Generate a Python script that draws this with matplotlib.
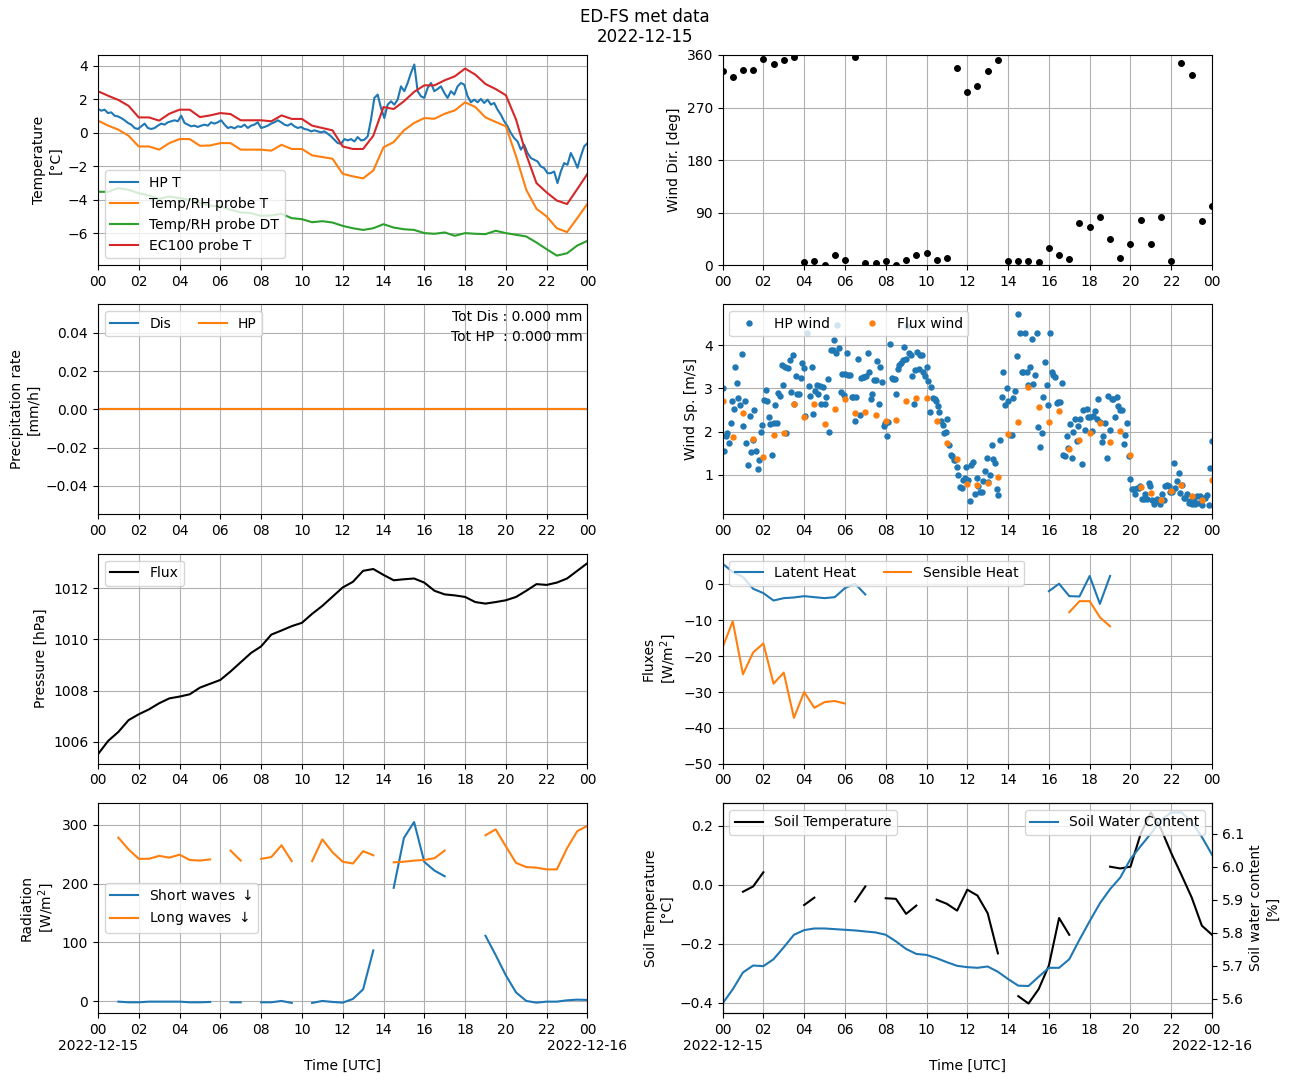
import numpy as np
import matplotlib
matplotlib.use("Agg")
import matplotlib.pyplot as plt

nan = np.nan

# ---------------- data ----------------
hours_tick = list(range(0, 25, 2))
tick_labels = ['00', '02', '04', '06', '08', '10', '12', '14', '16', '18', '20', '22', '00']
date_start = '2022-12-15'
date_end = '2022-12-16'

# half-hourly time axis (hours)
t30 = np.arange(49) * 0.5

# Temperature panel
hp_t = [1.41, 1.31, 1.37, 1.17, 1.21, 1.01, 0.97, 0.87, 0.74, 0.58, 0.48, 0.28, 0.22, 0.38, 0.54, 0.28,
        0.22, 0.28, 0.42, 0.54, 0.48, 0.62, 0.68, 0.74, 0.68, 1.01, 0.58, 0.48, 0.38, 0.42, 0.34, 0.42,
        0.48, 0.42, 0.62, 0.54, 0.62, 0.74, 0.48, 0.28, 0.34, 0.26, 0.38, 0.34, 0.48, 0.28, 0.42, 0.48,
        0.62, 0.28, 0.34, 0.42, 0.54, 0.62, 0.74, 0.62, 0.48, 0.42, 0.54, 0.38, 0.28, 0.34, 0.22, 0.18,
        0.08, 0.14, 0.08, 0.02, 0.08, -0.06, -0.22, -0.42, -0.62, -0.66, -0.38, -0.46, -0.38, -0.52,
        -0.26, -0.46, -0.42, -0.22, 0.78, 2.07, 2.27, 1.47, 0.87, 1.67, 1.87, 1.67, 1.97, 2.76, 2.47,
        2.96, 3.56, 4.06, 2.47, 2.17, 2.07, 2.66, 2.96, 2.47, 2.6, 2.76, 2.37, 2.07, 2.47, 2.27, 2.76,
        2.96, 2.86, 2.17, 1.81, 1.97, 1.81, 2.01, 1.77, 1.97, 1.67, 1.77, 1.37, 1.07, 0.68, 0.38, -0.02,
        -0.32, -0.52, -1.01, -0.72, -1.21, -1.51, -1.61, -1.71, -2.01, -2.11, -2.41, -2.41, -2.31, -3.0,
        -2.31, -1.81, -1.91, -1.21, -1.61, -2.09, -1.41, -0.82, -0.62]
rh_t = [0.72, 0.42, 0.18, -0.18, -0.82, -0.82, -1.01, -0.62, -0.38, -0.38, -0.78, -0.76, -0.62, -0.62,
        -1.01, -1.01, -1.01, -1.07, -0.72, -0.97, -0.97, -1.35, -1.45, -1.55, -2.45, -2.6, -2.72, -2.25,
        -0.87, -0.56, 0.14, 0.58, 0.87, 0.83, 1.13, 1.33, 1.81, 1.53, 0.91, 0.64, 0.38, -1.41, -3.4,
        -4.53, -4.99, -5.69, -5.92, -5.09, -4.23]
rh_dt = [-3.52, -3.52, -3.3, -3.4, -3.6, -3.74, -3.94, -3.8, -3.9, -4.0, -4.19, -4.35, -4.39, -4.59,
         -4.75, -4.79, -4.95, -4.93, -4.83, -5.09, -5.15, -5.33, -5.27, -5.35, -5.55, -5.69, -5.79,
         -5.69, -5.45, -5.65, -5.75, -5.79, -5.98, -6.02, -5.94, -6.14, -5.98, -6.02, -6.04, -5.84,
         -5.98, -6.08, -6.18, -6.54, -6.94, -7.32, -7.18, -6.72, -6.44]
ec100_t = [2.47, 2.2, 1.95, 1.6, 0.91, 0.91, 0.72, 1.13, 1.37, 1.37, 0.93, 1.03, 1.17, 1.11, 0.74,
           0.74, 0.74, 0.68, 1.03, 0.82, 0.82, 0.42, 0.28, 0.14, -0.82, -0.97, -0.97, -0.18, 1.53,
           1.41, 1.87, 2.43, 2.82, 2.82, 3.12, 3.36, 3.82, 3.46, 2.9, 2.6, 2.23, 0.78, -1.31, -3.0,
           -3.56, -4.04, -4.25, -3.36, -2.45]

# Wind direction (half-hourly)
wind_dir = [333, 322, 334, 334, 353, 344, 351, 357, 4.6, 6.3, 0, 16.6, 8, 357, 3.4, 3.4, 6.3, 0, 8,
            16.6, 20, 8, 13, 337, 296, 306, 332, 351, 6.3, 6.3, 6.3, 4.6, 28.6, 16.6, 11.4, 73, 64.6,
            83, 44, 13, 35.4, 76.6, 35.4, 83, 6.3, 347, 325, 75, 102]

# Wind speed: HP wind (dense) in two read segments, flux wind half-hourly
hp_wind_a = [3.0, 1.55, 1.9, 1.97, 1.73, 2.2, 2.7, 2.52, 3.5, 3.13, 2.78, 2.62, 3.8, 2.13, 2.7, 1.73,
             1.22, 2.35, 1.53, 1.81, 2.5, 1.56, 1.13, 1.35, 1.99, 2.16, 2.73, 2.96, 2.7, 2.34, 2.18,
             1.46, 2.2, 2.62, 2.2, 2.9, 2.82, 3.55, 3.09, 3.5, 1.97, 3.47, 3.67, 2.92, 3.78, 2.64, 3.28,
             2.86, 2.87, 3.24, 3.59, 3.47, 2.35, 4.29, 3.05, 2.82, 3.5, 2.41, 2.95, 3.09, 2.86, 3.05,
             2.64, 3.03, 2.64, 2.8, 3.23, 2.0, 3.88, 3.88, 4.13, 3.82, 4.48, 3.94, 2.92, 3.34, 2.84,
             3.34, 3.82, 3.32, 3.32, 2.8, 2.8, 2.25, 2.8, 3.69, 2.39, 3.24, 3.26, 3.26, 3.3, 3.82, 3.38,
             2.76, 2.87, 3.2, 3.2, 3.63, 2.64, 3.5, 3.15, 2.14, 2.19, 1.9, 2.22, 4.03, 3.24, 3.22, 3.23,
             2.87, 3.44, 3.54, 3.59, 3.67, 3.96, 3.69, 4.44, 3.82, 3.77, 3.3, 2.64, 3.43, 3.84, 3.44,
             3.78, 3.78, 3.38, 3.28, 3.49, 3.17, 2.45, 3.03, 2.78, 2.76, 2.7, 2.59, 2.45, 2.24, 2.16,
             1.97, 2.0, 2.3, 1.7, 1.46, 1.43, 1.35, 1.33, 1.19, 1.0, 0.71, 0.69, 0.88, 0.92]
hp_wind_b = [1.19, 0.87, 0.4, 1.22, 1.3, 0.55, 0.92, 0.73, 0.61, 0.61, 0.85, 1.09, 1.39, 0.83, 1.0,
             1.69, 1.37, 1.27, 0.68, 0.53, 1.81, 2.8, 3.38, 2.62, 3.0, 2.7, 1.91, 1.93, 2.78, 2.95,
             3.76, 4.73, 4.29, 3.38, 3.38, 4.29, 3.38, 3.07, 3.5, 4.15, 3.11, 3.32, 4.29, 2.1, 1.64,
             1.97, 2.8, 3.61, 3.09, 2.62, 4.29, 3.38, 3.32, 3.26, 2.66, 2.68, 2.69, 3.13, 1.46, 1.43,
             1.9, 1.62, 2.18, 1.39, 2.0, 2.29, 1.79, 2.14, 2.29, 1.25, 2.5, 2.04, 2.53, 2.34, 2.34,
             2.02, 2.37, 2.47, 2.3, 2.76, 2.22, 1.76, 1.89, 2.2, 1.39, 2.83, 2.04, 2.76, 2.76, 2.34,
             2.8, 2.6, 2.51, 2.51, 1.71, 1.93, 2.2, 1.44, 0.91, 0.67, 0.68, 0.55, 0.7, 0.7, 0.73, 0.44,
             0.44, 0.56, 0.44, 0.81, 0.73, 0.42, 0.33, 0.4, 0.44, 0.42, 0.33, 0.55, 0.42, 0.73, 0.77,
             0.73, 0.59, 0.59, 1.27, 0.7, 0.86, 1.04, 0.57, 0.77, 0.45, 0.45, 0.55, 0.34, 0.38, 0.33,
             0.38, 0.33, 0.5, 0.34, 0.5, 0.3, 0.47, 0.47, 0.52, 0.3, 1.15, 1.79]
hp_wind_a_span = (0.0, 11.88)
hp_wind_b_span = (11.96, 24.0)
flux_wind = [2.72, 1.87, 2.43, 1.83, 1.41, 1.92, 1.97, 2.64, 2.34, 2.64, 2.18, 2.52, 2.76, 2.43, 2.46,
             2.38, 2.25, 2.28, 2.72, 2.77, 2.79, 2.25, 1.73, 1.36, 0.79, 0.76, 0.81, 0.95, 1.94, 2.22,
             3.03, 2.57, 2.22, 2.48, 1.6, 1.8, 1.97, 2.2, 1.76, 2.01, 1.46, 0.71, 0.57, 0.41, 0.62,
             0.76, 0.5, 0.41, 0.88]

# Precipitation
precip_dis = [0.0] * 49
precip_hp = [0.0] * 49
tot_dis = 0.0
tot_hp = 0.0

# Pressure
pressure = [1005.52, 1006.04, 1006.39, 1006.85, 1007.08, 1007.27, 1007.51, 1007.70, 1007.77, 1007.86,
            1008.12, 1008.27, 1008.42, 1008.75, 1009.11, 1009.47, 1009.73, 1010.19, 1010.35, 1010.52,
            1010.65, 1011.0, 1011.31, 1011.67, 1012.03, 1012.25, 1012.68, 1012.75, 1012.52, 1012.31,
            1012.35, 1012.38, 1012.22, 1011.90, 1011.76, 1011.72, 1011.66, 1011.46, 1011.40, 1011.46,
            1011.53, 1011.66, 1011.90, 1012.16, 1012.13, 1012.22, 1012.38, 1012.68, 1012.98]

# Fluxes
latent = [5.8, 3.46, 2.06, -1.21, -2.43, -4.49, -3.83, -3.64, -3.27, -3.55, -3.83, -3.55, -1.03, 0.19,
          -2.8] + [nan] * 17 + [-1.87, 0.19, -3.27, -3.36, 2.34, -5.42, 2.34] + [nan] * 10
sensible = [-17.57, -10.28, -25.05, -18.97, -16.45, -27.66, -24.58, -37.2, -30.0, -34.4, -32.8, -32.5,
            -33.2] + [nan] * 21 + [-7.76, -4.67, -4.67, -9.16, -11.68] + [nan] * 10

# Radiation
short_wave = [nan, nan, -0.6, -1.7, -1.7, -0.6, -0.6, -0.6, -0.6, -1.7, -1.7, -1.1, nan, -1.7, -1.7,
              nan, -1.7, -1.7, 0.6, -2.8, nan, -2.8, 0.6, -1.1, -2.3, 4.0, 20.3, 86.4, nan, 192.7,
              277.4, 304.5, 236.7, 222.0, 212.4, nan, nan, nan, 111.3, 78.5, 44.0, 15.0, 0.6, -2.3,
              -0.6, -0.6, 1.7, 2.8, 2.3]
long_wave = [nan, nan, 278, 258, 242, 242, 247, 244, 249, 240, 239, 241, nan, 256, 239, nan, 242, 245,
             265, 238, nan, 238, 275, 253, 237, 234, 255, 248, nan, 236, 237, 239, 240, 243, 256, nan,
             nan, nan, 282, 292, 263, 235, 228, 227, 224, 224, 260, 289, 298]

# Soil
soil_temp = [nan, nan, -0.023, -0.005, 0.043, nan, nan, nan, -0.068, -0.043, nan, nan, nan, -0.056,
             -0.005, nan, -0.045, -0.047, -0.098, -0.070, nan, -0.050, -0.064, -0.087, -0.016, -0.036,
             -0.096, -0.232, nan, -0.377, -0.402, -0.353, -0.273, -0.112, -0.169, nan, nan, nan, 0.062,
             0.056, 0.062, 0.173, 0.246, 0.19, 0.108, 0.034, -0.042, -0.138, -0.169]
soil_water = [5.586, 5.629, 5.680, 5.701, 5.699, 5.720, 5.756, 5.794, 5.808, 5.813, 5.813, 5.811, 5.809,
              5.807, 5.804, 5.801, 5.794, 5.774, 5.751, 5.736, 5.733, 5.723, 5.711, 5.700, 5.696, 5.694,
              5.698, 5.682, 5.660, 5.640, 5.639, 5.667, 5.694, 5.694, 5.720, 5.779, 5.835, 5.889, 5.932,
              5.967, 6.023, 6.062, 6.100, 6.141, 6.164, 6.164, 6.135, 6.090, 6.036]

# ---------------- figure ----------------
fig, axs = plt.subplots(4, 2, figsize=(12.89, 10.82), dpi=100)
fig.subplots_adjust(left=0.076, right=0.9403, top=0.9492, bottom=0.0637, wspace=0.276, hspace=0.186)
fig.suptitle('ED-FS met data\n' + date_start, fontsize=12, y=0.993)


def fmt_x(ax, bottom=False):
    ax.set_xlim(0, 24)
    ax.set_xticks(hours_tick)
    labels = list(tick_labels)
    if bottom:
        labels[0] = labels[0] + '\n' + date_start
        labels[-1] = labels[-1] + '\n' + date_end
        ax.set_xlabel('Time [UTC]')
    ax.set_xticklabels(labels)
    ax.grid(True)


# Temperature
ax = axs[0, 0]
t_hp = np.linspace(0, 24, len(hp_t))
ax.plot(t_hp, hp_t, label='HP T')
ax.plot(t30, rh_t, label='Temp/RH probe T')
ax.plot(t30, rh_dt, label='Temp/RH probe DT')
ax.plot(t30, ec100_t, label='EC100 probe T')
ax.set_ylabel('Temperature\n[°C]')
ax.legend(loc='lower left')
fmt_x(ax)

# Wind direction
ax = axs[0, 1]
ax.plot(t30, wind_dir, 'o', color='k', ms=4)
ax.set_ylim(0, 360)
ax.set_yticks([0, 90, 180, 270, 360])
ax.set_ylabel('Wind Dir. [deg]')
fmt_x(ax)

# Precipitation
ax = axs[1, 0]
ax.plot(t30, precip_dis, label='Dis')
ax.plot(t30, precip_hp, label='HP')
ax.set_ylabel('Precipitation rate\n[mm/h]')
ax.legend(loc='upper left', ncol=2)
ax.text(0.99, 0.975, f'Tot Dis : {tot_dis:.3f} mm\nTot HP  : {tot_hp:.3f} mm',
        transform=ax.transAxes, ha='right', va='top', linespacing=1.6)
fmt_x(ax)

# Wind speed
ax = axs[1, 1]
t_hpw = np.concatenate([np.linspace(*hp_wind_a_span, len(hp_wind_a)),
                        np.linspace(*hp_wind_b_span, len(hp_wind_b))])
ax.plot(t_hpw, hp_wind_a + hp_wind_b, 'o', ms=3.6, label='HP wind')
ax.plot(t30, flux_wind, 'o', ms=3.6, label='Flux wind')
ax.set_ylabel('Wind Sp. [m/s]')
ax.legend(loc='upper left', ncol=2)
fmt_x(ax)

# Pressure
ax = axs[2, 0]
ax.plot(t30, pressure, color='k', label='Flux')
ax.set_ylabel('Pressure [hPa]')
ax.legend(loc='upper left')
fmt_x(ax)

# Fluxes
ax = axs[2, 1]
ax.plot(t30, latent, label='Latent Heat')
ax.plot(t30, sensible, label='Sensible Heat')
ax.set_ylim(-50, 8.6)
ax.set_ylabel('Fluxes\n[W/m$^2$]')
ax.legend(loc='upper left', ncol=2)
fmt_x(ax)

# Radiation
ax = axs[3, 0]
ax.plot(t30, short_wave, label='Short waves $\\downarrow$')
ax.plot(t30, long_wave, label='Long waves $\\downarrow$')
ax.set_ylim(-20, 337)
ax.set_ylabel('Radiation\n[W/m$^2$]')
ax.legend(loc='center left')
fmt_x(ax, bottom=True)

# Soil
ax = axs[3, 1]
ax.plot(t30, soil_temp, color='k', label='Soil Temperature')
ax.set_ylabel('Soil Temperature\n[°C]')
ax.legend(loc='upper left')
fmt_x(ax, bottom=True)
ax2 = ax.twinx()
ax2.plot(t30, soil_water, color='tab:blue', label='Soil Water Content')
ax2.set_ylabel('Soil water content\n[%]')
ax2.legend(loc='upper right')

fig.savefig('out.png', dpi=100)
